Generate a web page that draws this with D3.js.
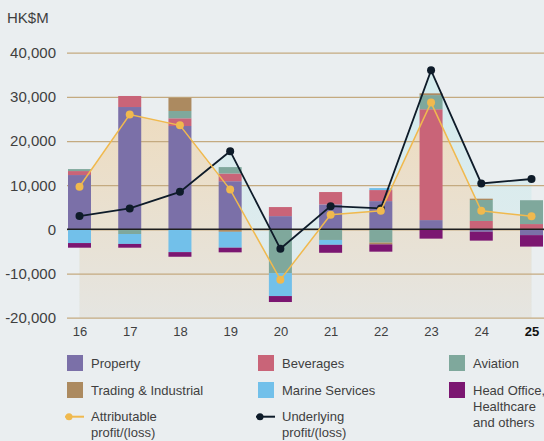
<!DOCTYPE html>
<html><head><meta charset="utf-8">
<script src="https://cdn.jsdelivr.net/npm/d3@7"></script>
<style>
html,body{margin:0;padding:0;background:#eaeef0;}
svg{display:block;font-family:"Liberation Sans",Arial,sans-serif;}
</style></head>
<body><svg id="c" width="544" height="441"></svg>
<script>
const years = ["16","17","18","19","20","21","22","23","24","25"];
const property   = [12300, 27700, 23400, 10900, 3000, 5650, 6400, 2100, -550, -1300];
const beverages  = [900, 2500, 1750, 1750, 2050, 2800, 2500, 25100, 1900, 1200];
const aviation   = [450, -1050, 1650, 1450, -9900, -2400, -3000, 3200, 4750, 5400];
const trading    = [0, 0, 3000, -550, 0, 0, -400, 400, 300, 0];
const marine     = [-3100, -2250, -5150, -3600, -5200, -1100, 450, 0, 0, 0];
const headOffice = [-1050, -850, -1050, -1050, -1350, -1800, -1650, -2100, -2000, -2600];
const attributable = [9650, 26000, 23550, 9000, -11400, 3300, 4200, 28700, 4200, 2950];
const underlying   = [3000, 4750, 8500, 17700, -4400, 5250, 4750, 36000, 10400, 11400];
const yTicks = [-20000, -10000, 0, 10000, 20000, 30000, 40000];
const yTickLabels = ["-20,000", "-10,000", "0", "10,000", "20,000", "30,000", "40,000"];
const seriesKeys = ["Property", "Beverages", "Aviation", "Trading & Industrial", "Marine Services", "Head Office"];
const seriesColors = ["#7b70a8", "#c96478", "#7fa89c", "#ac8a60", "#72c0ea", "#7b1671"];
const legendLabels = [["Property"], ["Beverages"], ["Aviation"], ["Trading & Industrial"], ["Marine Services"], ["Head Office,", "Healthcare", "and others"]];
const lineLabels = [["Attributable", "profit/(loss)"], ["Underlying", "profit/(loss)"]];

const seriesValues = [property, beverages, aviation, trading, marine, headOffice];
const table = years.map((y, i) => {
  const o = {year: y};
  seriesKeys.forEach((k, j) => o[k] = seriesValues[j][i]);
  return o;
});

const svg = d3.select("#c");
const x = d3.scalePoint().domain(years).range([79.5, 531.5]);
const y = d3.scaleLinear().domain([-20000, 40000]).range([317.7, 52.7]);
const barW = 23;

const defs = svg.append("defs");
const g1 = defs.append("linearGradient").attr("id", "beige").attr("gradientUnits", "userSpaceOnUse")
  .attr("x1", 0).attr("x2", 0).attr("y1", y(30000)).attr("y2", y(-20000));
g1.append("stop").attr("offset", 0).attr("stop-color", "#eedbbd");
g1.append("stop").attr("offset", 1).attr("stop-color", "#e5e5e1");
const g2 = defs.append("linearGradient").attr("id", "cyan").attr("gradientUnits", "userSpaceOnUse")
  .attr("x1", 0).attr("x2", 0).attr("y1", y(36000)).attr("y2", y(-20000));
g2.append("stop").attr("offset", 0).attr("stop-color", "#d4ecee");
g2.append("stop").attr("offset", 1).attr("stop-color", "#e2ebed");

// areas
const areaU = d3.area().x((d, i) => x(years[i])).y0(y(-20000)).y1(d => y(d));
svg.append("path").datum(underlying).attr("d", areaU).attr("fill", "url(#cyan)");
svg.append("path").datum(attributable).attr("d", areaU).attr("fill", "url(#beige)");

// y axis + gridlines
const yAxis = d3.axisLeft(y).tickValues(yTicks).tickFormat((d, i) => yTickLabels[i])
  .tickSizeInner(-(544 - 67)).tickSizeOuter(0).tickPadding(11);
const ga = svg.append("g").attr("transform", "translate(67,0)").call(yAxis);
ga.select(".domain").remove();
ga.selectAll(".tick line").attr("stroke", "#c4aa80").attr("stroke-width", 1.3);
ga.selectAll(".tick text").attr("fill", "#3f3f3f").attr("font-size", 15)
  .attr("font-family", "'Liberation Sans', Arial, sans-serif");

svg.append("text").attr("x", 7).attr("y", 23).attr("fill", "#3f3f3f").attr("font-size", 15).text("HK$M");

// bars
const stack = d3.stack().keys(seriesKeys).offset(d3.stackOffsetDiverging);
const layers = stack(table);
svg.append("g").selectAll("g").data(layers).join("g")
  .attr("fill", (d, i) => seriesColors[i])
  .selectAll("rect").data(d => d).join("rect")
  .attr("x", d => x(d.data.year) - barW / 2)
  .attr("width", barW)
  .attr("y", d => y(Math.max(d[0], d[1])))
  .attr("height", d => Math.abs(y(d[0]) - y(d[1])));

// zero line
svg.append("line").attr("x1", 67).attr("x2", 544).attr("y1", y(0)).attr("y2", y(0))
  .attr("stroke", "#1e1e1e").attr("stroke-width", 1.5);

// x axis labels
const xAxis = d3.axisBottom(x).tickSize(0).tickPadding(0);
const gx = svg.append("g").attr("transform", "translate(0,327)").call(xAxis);
gx.select(".domain").remove();
gx.selectAll(".tick text").attr("fill", "#3f3f3f").attr("font-size", 13)
  .attr("font-family", "'Liberation Sans', Arial, sans-serif")
  .attr("font-weight", d => d === "25" ? "bold" : null)
  .attr("fill", d => d === "25" ? "#111" : "#3f3f3f");

// lines
const line = d3.line().x((d, i) => x(years[i])).y(d => y(d));
svg.append("path").datum(underlying).attr("d", line).attr("fill", "none")
  .attr("stroke", "#0e1b29").attr("stroke-width", 1.8);
svg.append("g").selectAll("circle").data(underlying).join("circle")
  .attr("cx", (d, i) => x(years[i])).attr("cy", d => y(d)).attr("r", 4).attr("fill", "#0e1b29");
svg.append("path").datum(attributable).attr("d", line).attr("fill", "none")
  .attr("stroke", "#f0b94e").attr("stroke-width", 1.5);
svg.append("g").selectAll("circle").data(attributable).join("circle")
  .attr("cx", (d, i) => x(years[i])).attr("cy", d => y(d)).attr("r", 4).attr("fill", "#f0b94e");

// legend
const colX = [67, 258, 449];
const rowY = [355, 382];
const lg = svg.append("g").attr("font-size", 13).attr("fill", "#3f3f3f");
legendLabels.forEach((lines, i) => {
  const cx = colX[i % 3], cy = rowY[Math.floor(i / 3)];
  lg.append("rect").attr("x", cx).attr("y", cy).attr("width", 16).attr("height", 16).attr("fill", seriesColors[i]);
  lines.forEach((t, k) => {
    lg.append("text").attr("x", cx + 24).attr("y", cy + 8 + k * 16).attr("dy", "0.35em").text(t);
  });
});
const lineColors = ["#f0b94e", "#0e1b29"];
lineLabels.forEach((lines, i) => {
  const cx = colX[i], cy = 416.7;
  lg.append("line").attr("x1", cx - 2).attr("x2", cx + 17).attr("y1", cy).attr("y2", cy)
    .attr("stroke", lineColors[i]).attr("stroke-width", 2);
  lg.append("circle").attr("cx", cx + 2).attr("cy", cy).attr("r", 3.5).attr("fill", lineColors[i]);
  lines.forEach((t, k) => {
    lg.append("text").attr("x", cx + 24).attr("y", cy + k * 15.5).attr("dy", "0.35em").text(t);
  });
});
</script></body></html>
